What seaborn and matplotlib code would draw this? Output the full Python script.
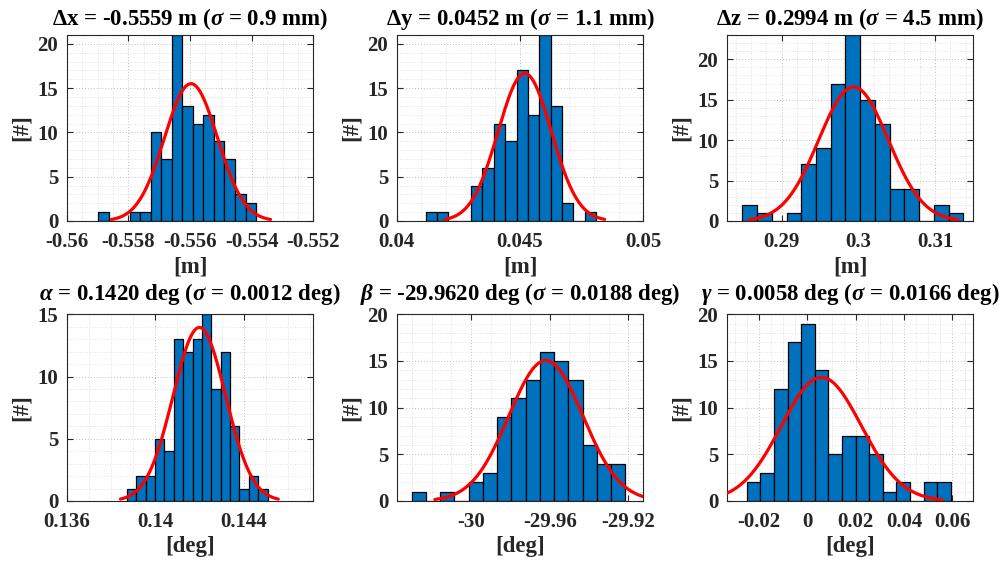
import numpy as np
import pandas as pd
import matplotlib
matplotlib.use("Agg")
import matplotlib.pyplot as plt
import seaborn as sns
from matplotlib.ticker import AutoMinorLocator, FixedLocator, FuncFormatter

# ---------------- data ----------------
titles = [
    r"Δx = -0.5559 m ($\sigma$ = 0.9 mm)",
    r"Δy = 0.0452 m ($\sigma$ = 1.1 mm)",
    r"Δz = 0.2994 m ($\sigma$ = 4.5 mm)",
    r"$\alpha$ = 0.1420 deg ($\sigma$ = 0.0012 deg)",
    r"$\beta$ = -29.9620 deg ($\sigma$ = 0.0188 deg)",
    r"$\gamma$ = 0.0058 deg ($\sigma$ = 0.0166 deg)",
]
xlabels = ["[m]", "[m]", "[m]", "[deg]", "[deg]", "[deg]"]

# first bin edge and bin width of each histogram
bin_start = [-0.558975, 0.041176, 0.28487, 0.13872, -30.0302, -0.02507]
bin_width = [0.000341, 0.0004603, 0.001921, 0.000424, 0.00724, 0.005627]

counts_dx = [1, 0, 0, 1, 1, 10, 7, 21, 13, 11, 12, 9, 7, 3, 2]
counts_dy = [1, 1, 0, 0, 4, 6, 11, 9, 17, 12, 21, 13, 2, 0, 1]
counts_dz = [2, 1, 0, 1, 7, 9, 17, 23, 15, 12, 4, 4, 0, 2, 1]
counts_alpha = [1, 2, 2, 5, 4, 13, 12, 13, 15, 9, 12, 6, 1, 2, 1]
counts_beta = [1, 0, 1, 0, 2, 3, 9, 11, 13, 16, 15, 13, 6, 4, 4]
counts_gamma = [2, 3, 12, 17, 19, 14, 5, 7, 7, 5, 1, 2, 0, 2, 2]
all_counts = [counts_dx, counts_dy, counts_dz, counts_alpha, counts_beta, counts_gamma]

# normal fit (histfit) parameters
fit_mean = [-0.55597, 0.04519, 0.29937, 0.141995, -29.962, 0.0058]
fit_sigma = [0.00086, 0.00108, 0.00453, 0.001189, 0.0188, 0.0166]

xlims = [(-0.56, -0.552), (0.04, 0.05), (0.28283, 0.3150),
         (0.136, 0.14715), (-30.0378, -29.9124), (-0.03335, 0.06868)]
ylims = [(0, 21), (0, 21), (0, 23), (0, 15), (0, 20), (0, 20)]
xticks = [[-0.56, -0.558, -0.556, -0.554, -0.552],
          [0.04, 0.045, 0.05],
          [0.29, 0.3, 0.31],
          [0.136, 0.14, 0.144],
          [-30, -29.96, -29.92],
          [-0.02, 0, 0.02, 0.04, 0.06]]
yticks = [[0, 5, 10, 15, 20], [0, 5, 10, 15, 20], [0, 5, 10, 15, 20],
          [0, 5, 10, 15], [0, 5, 10, 15, 20], [0, 5, 10, 15, 20]]

# ---------------- style ----------------
sns.set_theme(style="white")
plt.rcParams["font.family"] = ["Liberation Serif", "DejaVu Serif"]
plt.rcParams["font.weight"] = "bold"
plt.rcParams["axes.titleweight"] = "bold"
plt.rcParams["axes.labelweight"] = "bold"
plt.rcParams["mathtext.fontset"] = "custom"
plt.rcParams["mathtext.rm"] = "Liberation Serif:bold"
plt.rcParams["mathtext.it"] = "Liberation Serif:italic:bold"
plt.rcParams["mathtext.bf"] = "Liberation Serif:bold"

W, H = 1004, 565
fig = plt.figure(figsize=(W / 100, H / 100), dpi=100)
fig.patch.set_facecolor("white")

col_left = [66.7, 396.7, 726.7]
ax_w = 246.7
row_top = [35.0, 314.3]
ax_h = [186.0, 186.7]
title_pad = [7, 10]

BAR = "#0072BD"
FRAME = "#262626"
fs = 15


def fmt(v, pos=None):
    v = round(v, 6) + 0.0
    return "%g" % v


for i in range(6):
    r, c = divmod(i, 3)
    left = col_left[c] / W
    bottom = 1 - (row_top[r] + ax_h[r]) / H
    ax = fig.add_axes([left, bottom, ax_w / W, ax_h[r] / H])

    counts = np.array(all_counts[i], dtype=float)
    edges = bin_start[i] + bin_width[i] * np.arange(len(counts) + 1)
    centers = 0.5 * (edges[:-1] + edges[1:])
    df = pd.DataFrame({"x": centers, "n": counts})
    sns.histplot(data=df, x="x", weights="n", bins=list(edges), ax=ax,
                 color=BAR, alpha=1.0, edgecolor="black", linewidth=0.9,
                 zorder=2)

    mu, sd = fit_mean[i], fit_sigma[i]
    xs = np.linspace(mu - 3 * sd, mu + 3 * sd, 200)
    ys = counts.sum() * bin_width[i] / (sd * np.sqrt(2 * np.pi)) * \
        np.exp(-0.5 * ((xs - mu) / sd) ** 2)
    sns.lineplot(x=xs, y=ys, ax=ax, color="#FF0000", linewidth=2.3,
                 zorder=3, sort=False)

    ax.set_xlim(*xlims[i])
    ax.set_ylim(*ylims[i])
    ax.xaxis.set_major_locator(FixedLocator(xticks[i]))
    ax.yaxis.set_major_locator(FixedLocator(yticks[i]))
    ax.xaxis.set_major_formatter(FuncFormatter(fmt))
    ax.yaxis.set_major_formatter(FuncFormatter(fmt))
    ax.xaxis.set_minor_locator(AutoMinorLocator())
    ax.yaxis.set_minor_locator(AutoMinorLocator())

    ax.grid(True, which="major", linestyle=(0, (1, 2)), color="#c0c0c0",
            linewidth=0.7, zorder=0)
    ax.grid(True, which="minor", linestyle=(0, (1, 2)), color="#d8d8d8",
            linewidth=0.6, zorder=0)
    ax.set_axisbelow(True)

    ax.tick_params(which="major", direction="in", length=4, width=0.8,
                   color=FRAME, top=True, right=True, bottom=True, left=True,
                   labelsize=fs, labelcolor=FRAME)
    ax.tick_params(axis="x", which="major", pad=8)
    ax.tick_params(axis="y", which="major", pad=6)
    ax.tick_params(which="minor", length=0, top=True, right=True)
    for lab in ax.get_xticklabels() + ax.get_yticklabels():
        lab.set_fontweight("bold")
    for sp in ax.spines.values():
        sp.set_visible(True)
        sp.set_color(FRAME)
        sp.set_linewidth(0.8)

    ax.set_title(titles[i], fontsize=16.5, fontweight="bold",
                 pad=title_pad[r], color="black")
    ax.set_xlabel(xlabels[i], fontsize=16.5, fontweight="bold",
                  color=FRAME, labelpad=3)
    ax.set_ylabel("[#]", fontsize=16.5, fontweight="bold", color=FRAME,
                  labelpad=4)

fig.savefig("out.png", dpi=100, facecolor="white")
